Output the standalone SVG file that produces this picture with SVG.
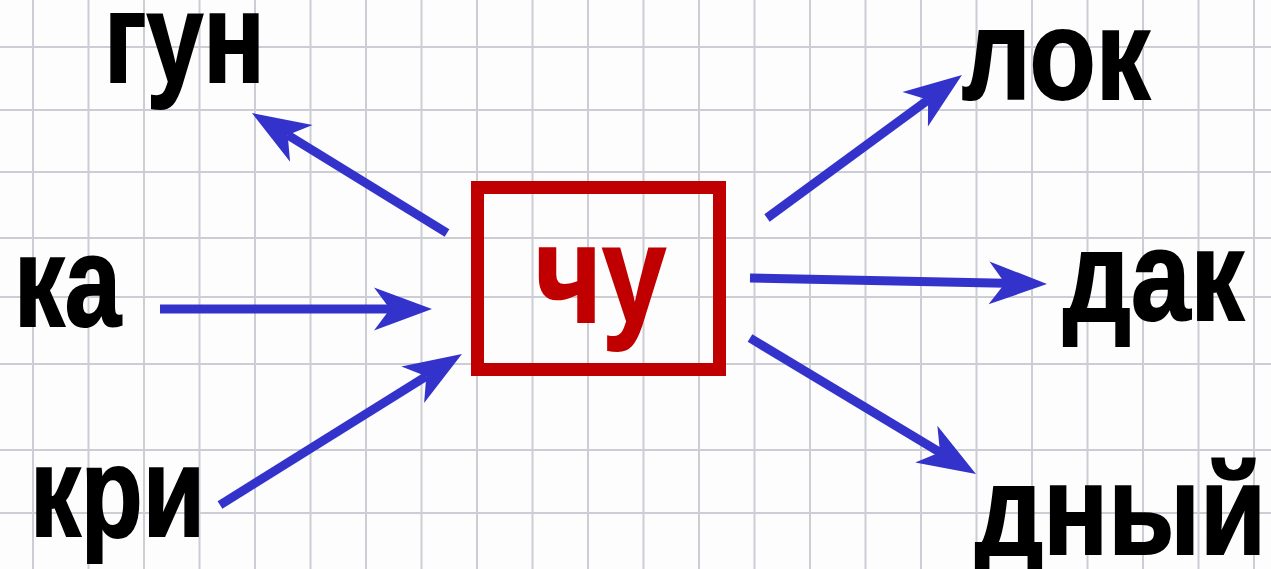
<svg xmlns="http://www.w3.org/2000/svg" width="1271" height="569" viewBox="0 0 1271 569">
  <style>
    .grid line { stroke: #cdcdd6; stroke-width: 2; }
    .word { font-family: "Liberation Sans", Arial, sans-serif; font-weight: bold; font-size: 128px; fill: #000; stroke: #000; stroke-width: 2; stroke-linejoin: miter; }
    .root { font-family: "Liberation Sans", Arial, sans-serif; font-weight: bold; font-size: 140px; fill: #c00000; stroke: #c00000; stroke-width: 2; stroke-linejoin: miter; }
    .arrow { stroke: #3333cc; stroke-width: 9; fill: none; marker-end: url(#head); }
  </style>
  <defs>
    <marker id="head" markerUnits="userSpaceOnUse" markerWidth="70" markerHeight="50" refX="16" refY="25" orient="auto" overflow="visible">
      <path d="M58,25 L0,3.5 L16,25 L0,46.5 Z" fill="#3333cc"/>
    </marker>
  </defs>
  <rect width="1271" height="569" fill="#fdfdfd"/>
  <g class="grid" id="grid">
    <line x1="33" y1="0" x2="33" y2="569"/>
    <line x1="88.5" y1="0" x2="88.5" y2="569"/>
    <line x1="144" y1="0" x2="144" y2="569"/>
    <line x1="199.5" y1="0" x2="199.5" y2="569"/>
    <line x1="255" y1="0" x2="255" y2="569"/>
    <line x1="310.5" y1="0" x2="310.5" y2="569"/>
    <line x1="366" y1="0" x2="366" y2="569"/>
    <line x1="421.5" y1="0" x2="421.5" y2="569"/>
    <line x1="477" y1="0" x2="477" y2="569"/>
    <line x1="532.5" y1="0" x2="532.5" y2="569"/>
    <line x1="588" y1="0" x2="588" y2="569"/>
    <line x1="643.5" y1="0" x2="643.5" y2="569"/>
    <line x1="699" y1="0" x2="699" y2="569"/>
    <line x1="754.5" y1="0" x2="754.5" y2="569"/>
    <line x1="810" y1="0" x2="810" y2="569"/>
    <line x1="865.5" y1="0" x2="865.5" y2="569"/>
    <line x1="921" y1="0" x2="921" y2="569"/>
    <line x1="976.5" y1="0" x2="976.5" y2="569"/>
    <line x1="1032" y1="0" x2="1032" y2="569"/>
    <line x1="1087.5" y1="0" x2="1087.5" y2="569"/>
    <line x1="1143" y1="0" x2="1143" y2="569"/>
    <line x1="1198.5" y1="0" x2="1198.5" y2="569"/>
    <line x1="1254" y1="0" x2="1254" y2="569"/>
    <line x1="0" y1="47" x2="1271" y2="47"/>
    <line x1="0" y1="110" x2="1271" y2="110"/>
    <line x1="0" y1="172" x2="1271" y2="172"/>
    <line x1="0" y1="238" x2="1271" y2="238"/>
    <line x1="0" y1="297" x2="1271" y2="297"/>
    <line x1="0" y1="364" x2="1271" y2="364"/>
    <line x1="0" y1="450" x2="1271" y2="450"/>
    <line x1="0" y1="513" x2="1271" y2="513"/>
  </g>
  <g id="connectors">
    <line class="arrow" x1="447" y1="233" x2="287.7" y2="135"/>
    <line class="arrow" x1="160" y1="309" x2="390" y2="309"/>
    <line class="arrow" x1="220" y1="505" x2="426.3" y2="376.3"/>
    <line class="arrow" x1="767" y1="218" x2="928.1" y2="99.8"/>
    <line class="arrow" x1="750" y1="278" x2="1005" y2="283.2"/>
    <line class="arrow" x1="750" y1="338" x2="940" y2="452.3"/>
  </g>
  <g id="node-chu">
    <rect x="477.5" y="187.5" width="242" height="182" fill="none" stroke="#c00000" stroke-width="13"/>
    <text class="root" x="535" y="322" textLength="131" lengthAdjust="spacingAndGlyphs">чу</text>
  </g>
  <g id="node-gun"><text class="word" x="104" y="82" textLength="161" lengthAdjust="spacingAndGlyphs">гун</text></g>
  <g id="node-ka"><text class="word" x="14" y="326" textLength="107" lengthAdjust="spacingAndGlyphs">ка</text></g>
  <g id="node-kri"><text class="word" x="30" y="536" textLength="175" lengthAdjust="spacingAndGlyphs">кри</text></g>
  <g id="node-lok"><text class="word" x="962" y="99" textLength="188" lengthAdjust="spacingAndGlyphs">лок</text></g>
  <g id="node-dak"><text class="word" x="1063" y="320" textLength="181" lengthAdjust="spacingAndGlyphs">дак</text></g>
  <g id="node-dnyi"><text class="word" x="975" y="554" textLength="291" lengthAdjust="spacingAndGlyphs">дный</text></g>
</svg>
